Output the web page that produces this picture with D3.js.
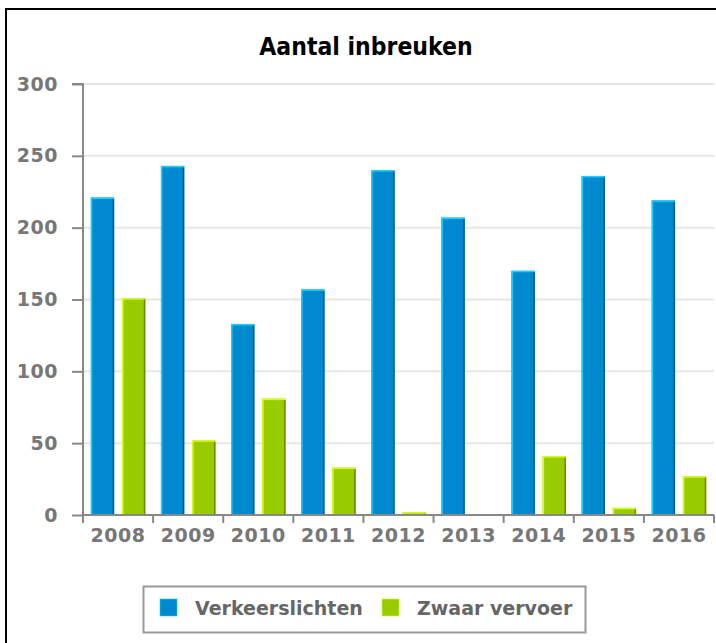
<!DOCTYPE html>
<html>
<head>
<meta charset="utf-8">
<script src="https://cdn.jsdelivr.net/npm/d3@7"></script>
<style>
    body { margin: 0; background: #fff; }
    svg { display: block; }
</style>
</head>
<body>
<svg id="chart" width="716" height="643"></svg>
<script>
// data
const years = ['2008', '2009', '2010', '2011', '2012', '2013', '2014', '2015', '2016'];
const seriesNames = ['Verkeerslichten', 'Zwaar vervoer'];
const verkeerslichten = [221, 243, 133, 157, 240, 207, 170, 236, 219];
const zwaarVervoer = [151, 52, 81, 33, 2, 0, 41, 5, 27];
const yTicks = [0, 50, 100, 150, 200, 250, 300];

const colors = {
    'Verkeerslichten': { fill: '#0089cf', light: '#17d1ff', dark: '#005f8f' },
    'Zwaar vervoer': { fill: '#99cc00', light: '#d8ff1a', dark: '#6a8c00' }
};

const svg = d3.select('#chart');
const width = 716;
const height = 643;
const plot = { left: 83, right: 714, top: 84, bottom: 515 };

// outer frame (only top and left edges are visible)
svg.append('rect')
    .attr('x', 6).attr('y', 9)
    .attr('width', width + 20).attr('height', height + 20)
    .attr('fill', 'none')
    .attr('stroke', '#000')
    .attr('stroke-width', 2);

// title
svg.append('text')
    .attr('x', 366).attr('y', 55)
    .attr('text-anchor', 'middle')
    .style('font-family', '"DejaVu Sans Condensed", "DejaVu Sans", sans-serif')
    .style('font-weight', 'bold')
    .style('font-size', '24.5px')
    .attr('fill', '#000')
    .text('Aantal inbreuken');

// scales
const x0 = d3.scaleBand().domain(years).range([plot.left, plot.right]);
const x1 = d3.scaleBand().domain(seriesNames)
    .range([0, x0.bandwidth()])
    .paddingInner(0.25)
    .paddingOuter(0.25);
const y = d3.scaleLinear().domain([0, 300]).range([plot.bottom, plot.top]);

// gridlines
svg.append('g')
    .selectAll('line')
    .data(yTicks.filter(d => d > 0))
    .join('line')
    .attr('x1', plot.left).attr('x2', plot.right)
    .attr('y1', d => y(d)).attr('y2', d => y(d))
    .attr('stroke', '#e6e6e6')
    .attr('stroke-width', 2);

// bars
const rows = years.map((yr, i) => ({
    year: yr,
    values: [
        { key: seriesNames[0], value: verkeerslichten[i] },
        { key: seriesNames[1], value: zwaarVervoer[i] }
    ]
}));

const groups = svg.append('g')
    .selectAll('g')
    .data(rows)
    .join('g')
    .attr('transform', d => `translate(${x0(d.year)},0)`);

const bars = groups.selectAll('g')
    .data(d => d.values.filter(v => v.value > 0))
    .join('g');

bars.append('rect')
    .attr('x', d => x1(d.key))
    .attr('y', d => y(d.value))
    .attr('width', x1.bandwidth())
    .attr('height', d => y(0) - y(d.value))
    .attr('fill', d => colors[d.key].fill);

// bevel: light left/top edge, dark right edge
bars.append('rect')
    .attr('x', d => x1(d.key))
    .attr('y', d => y(d.value))
    .attr('width', 1.5)
    .attr('height', d => y(0) - y(d.value))
    .attr('fill', d => colors[d.key].light);

bars.append('rect')
    .attr('x', d => x1(d.key))
    .attr('y', d => y(d.value))
    .attr('width', x1.bandwidth())
    .attr('height', d => Math.min(1.5, y(0) - y(d.value)))
    .attr('fill', d => colors[d.key].light);

bars.append('rect')
    .attr('x', d => x1(d.key) + x1.bandwidth() - 1.5)
    .attr('y', d => y(d.value) + 1.5)
    .attr('width', 1.5)
    .attr('height', d => Math.max(0, y(0) - y(d.value) - 1.5))
    .attr('fill', d => colors[d.key].dark);

// axes
const tickFont = '"DejaVu Sans", sans-serif';

const yAxis = svg.append('g')
    .attr('transform', `translate(${plot.left},0)`)
    .call(d3.axisLeft(y).tickValues(yTicks).tickSize(11).tickPadding(14));

const xAxis = svg.append('g')
    .attr('transform', `translate(0,${plot.bottom})`)
    .call(d3.axisBottom(x0).tickSize(0).tickPadding(14));

// x tick marks at category boundaries
xAxis.append('g')
    .selectAll('line')
    .data(years.map(d => x0(d)).concat([plot.right]))
    .join('line')
    .attr('x1', d => d).attr('x2', d => d)
    .attr('y1', 0).attr('y2', 8)
    .attr('stroke', '#888')
    .attr('stroke-width', 2);

[yAxis, xAxis].forEach(ax => {
    ax.select('.domain').attr('stroke', '#888').attr('stroke-width', 2);
    ax.selectAll('.tick line').attr('stroke', '#888').attr('stroke-width', 2);
    ax.selectAll('.tick text')
        .attr('fill', '#777')
        .style('font-family', tickFont)
        .style('font-weight', 'bold')
        .style('font-size', '19px')
        .style('letter-spacing', '0.5px');
});
yAxis.select('.domain').attr('d', `M-11,${plot.top}H0V${plot.bottom}`);
xAxis.select('.domain').attr('d', `M0,0H${plot.right - plot.left}`).attr('transform', `translate(${plot.left},0)`);

// legend
const legend = svg.append('g');
legend.append('rect')
    .attr('x', 143.5).attr('y', 586.5)
    .attr('width', 442).attr('height', 46)
    .attr('fill', '#fff')
    .attr('stroke', '#999')
    .attr('stroke-width', 2);

const legendX = [160, 382];
const items = legend.selectAll('g.item')
    .data(seriesNames)
    .join('g')
    .attr('class', 'item')
    .attr('transform', (d, i) => `translate(${legendX[i]},599)`);

items.append('rect')
    .attr('width', 17).attr('height', 17)
    .attr('fill', d => colors[d].fill)
    .attr('stroke', d => colors[d].light)
    .attr('stroke-width', 0.6);

items.append('text')
    .attr('x', 35).attr('y', 15.5)
    .attr('fill', '#666')
    .style('font-family', tickFont)
    .style('font-weight', 'bold')
    .style('font-size', '19px')
    .text(d => d);
</script>
</body>
</html>
